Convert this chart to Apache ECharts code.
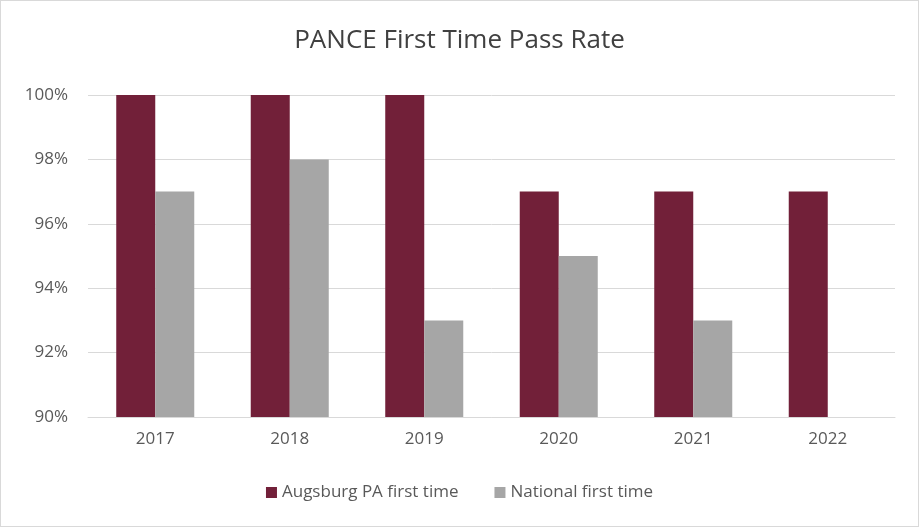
<!DOCTYPE html>
<html><head><meta charset="utf-8">
<script src="https://cdn.jsdelivr.net/npm/echarts@6/dist/echarts.min.js"></script>
<style>html,body{margin:0;padding:0;background:#fff}#c{width:919px;height:527px;box-sizing:border-box;border:1px solid #d9d9d9}</style>
</head><body><div id="c"></div>
<script>
const categories = ['2017','2018','2019','2020','2021','2022'];
const augsburg = [100,100,100,97,97,97];
const national = [97,98,93,95,93,null];
const chart = echarts.init(document.getElementById('c'));
const font = 'Segoe UI, "Open Sans", "Noto Sans", sans-serif';
chart.setOption({
  animation:false,
  title:{text:'PANCE First Time Pass Rate',left:'center',top:22,textStyle:{fontFamily:font,fontSize:26,fontWeight:'normal',color:'#404040'}},
  grid:{left:87,right:23,top:94,bottom:109},
  legend:{bottom:20,itemWidth:11,itemHeight:11,itemGap:36,icon:'rect',textStyle:{fontFamily:font,fontSize:17,color:'#595959'}},
  xAxis:{type:'category',data:categories,axisTick:{show:false},axisLine:{lineStyle:{color:'#d9d9d9'}},axisLabel:{fontFamily:font,fontSize:17,color:'#595959',margin:14}},
  yAxis:{type:'value',min:90,max:100,interval:2,axisLabel:{formatter:'{value}%',fontFamily:font,fontSize:17,color:'#595959',margin:20},splitLine:{lineStyle:{color:'#d9d9d9'}}},
  series:[
    {name:'Augsburg PA first time',type:'bar',data:augsburg,itemStyle:{color:'#722039'},barGap:'0%',barCategoryGap:'42%'},
    {name:'National first time',type:'bar',data:national,itemStyle:{color:'#A6A6A6'}}
  ]
});
</script></body></html>
